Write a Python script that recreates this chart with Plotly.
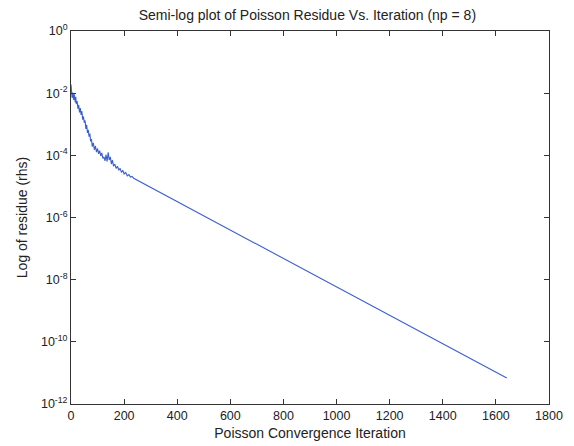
import plotly.graph_objects as go

# Iteration numbers and log10 of residue
iterations = [0, 2, 4, 6, 8, 10, 12, 14, 16, 18, 20, 23, 26, 29, 32, 35, 38, 41, 44, 47,
              50, 53, 56, 59, 62, 65, 68, 71, 74, 77, 80, 84, 88, 92, 96, 100, 104, 108,
              112, 116, 120, 124, 128, 132, 136, 140, 144, 148, 152, 156, 160, 165, 170,
              175, 180, 185, 190, 195, 200, 206, 212, 218, 224, 230, 236, 1641]
log_residue = [-1.72, -1.95, -2.15, -1.98, -2.05, -2.22, -2.02, -2.18, -2.30, -2.12,
               -2.35, -2.25, -2.50, -2.38, -2.62, -2.48, -2.70, -2.58, -2.85, -2.75,
               -2.95, -2.88, -3.15, -3.02, -3.28, -3.18, -3.40, -3.30, -3.55, -3.48,
               -3.72, -3.60, -3.82, -3.70, -3.90, -3.78, -3.95, -3.85, -4.02, -3.92,
               -4.10, -4.05, -4.18, -3.98, -4.20, -3.90, -4.15, -4.05, -4.28, -4.15,
               -4.35, -4.28, -4.42, -4.35, -4.48, -4.42, -4.55, -4.48, -4.60, -4.55,
               -4.66, -4.62, -4.70, -4.68, -4.74, -11.16]
residue = [10 ** v for v in log_residue]

y_tick_vals = [1e0, 1e-2, 1e-4, 1e-6, 1e-8, 1e-10, 1e-12]
y_tick_text = ["10<sup>0</sup>", "10<sup>-2</sup>", "10<sup>-4</sup>", "10<sup>-6</sup>",
               "10<sup>-8</sup>", "10<sup>-10</sup>", "10<sup>-12</sup>"]
x_tick_vals = [0, 200, 400, 600, 800, 1000, 1200, 1400, 1600, 1800]

font_family = "Liberation Sans, Arial, sans-serif"

fig = go.Figure()
fig.add_trace(go.Scatter(x=iterations, y=residue, mode="lines",
                         line=dict(color="#3a5fd0", width=1.1), showlegend=False))

fig.update_layout(
    width=574, height=446,
    margin=dict(l=71, r=25, t=31, b=42),
    paper_bgcolor="white", plot_bgcolor="white",
    font=dict(family=font_family, size=12.5, color="#222"),
    title=dict(text="Semi-log plot of Poisson Residue Vs. Iteration (np = 8)",
               x=0.5355, xanchor="center",
               y=1 - 15 / 446, yanchor="middle",
               font=dict(size=14, family=font_family, color="#222")),
)
fig.update_xaxes(range=[0, 1800], tickvals=x_tick_vals, automargin=False,
                 showline=True, linecolor="#333", linewidth=1, mirror="ticks",
                 ticks="inside", ticklen=5, tickcolor="#333", showgrid=False, zeroline=False,
                 title=dict(text="Poisson Convergence Iteration", standoff=6,
                            font=dict(size=14)),
                 tickfont=dict(size=12.5))
fig.update_yaxes(type="log", range=[-12, 0], tickvals=y_tick_vals, ticktext=y_tick_text,
                 automargin=False,
                 showline=True, linecolor="#333", linewidth=1, mirror="ticks",
                 ticks="inside", ticklen=5, tickcolor="#333", showgrid=False, zeroline=False,
                 title=dict(text="Log of residue (rhs)", standoff=10, font=dict(size=14)),
                 tickfont=dict(size=12.5))

fig.write_html("out.html")
